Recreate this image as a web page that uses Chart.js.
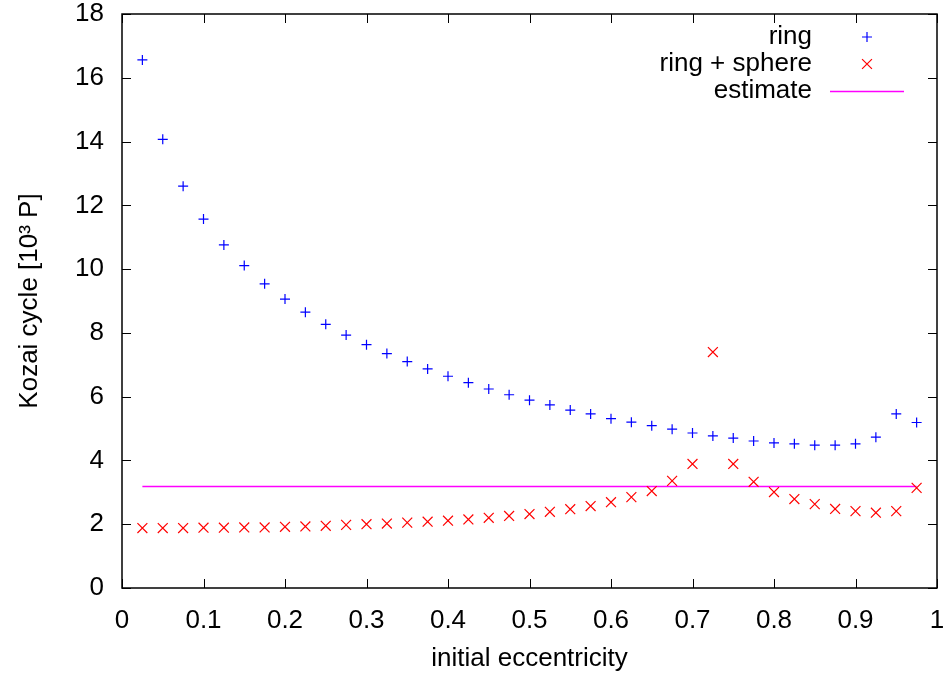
<!DOCTYPE html>
<html>
<head>
<meta charset="utf-8">
<script src="https://cdn.jsdelivr.net/npm/chart.js@4/dist/chart.umd.min.js"></script>
<style>
  html, body { margin: 0; padding: 0; background: #fff; }
  #wrap { width: 948px; height: 675px; position: relative; }
</style>
</head>
<body>
<div id="wrap"><canvas id="kozai"></canvas></div>
<script>
// initial eccentricity of each run
const eccentricity = [0.025, 0.05, 0.075, 0.1, 0.125, 0.15, 0.175, 0.2, 0.225, 0.25,
  0.275, 0.3, 0.325, 0.35, 0.375, 0.4, 0.425, 0.45, 0.475, 0.5,
  0.525, 0.55, 0.575, 0.6, 0.625, 0.65, 0.675, 0.7, 0.725, 0.75,
  0.775, 0.8, 0.825, 0.85, 0.875, 0.9, 0.925, 0.95, 0.975];

// Kozai cycle length [10^3 P]
const ringValues = [16.56, 14.07, 12.6, 11.57, 10.76, 10.11, 9.54, 9.06, 8.65, 8.27,
  7.93, 7.63, 7.35, 7.1, 6.87, 6.64, 6.44, 6.24, 6.06, 5.89,
  5.74, 5.58, 5.46, 5.31, 5.2, 5.09, 4.98, 4.86, 4.77, 4.7,
  4.61, 4.55, 4.52, 4.48, 4.48, 4.52, 4.73, 5.46, 5.19];

const ringSphereValues = [1.88, 1.88, 1.88, 1.89, 1.89, 1.9, 1.9, 1.92, 1.93, 1.95,
  1.98, 2.0, 2.02, 2.05, 2.08, 2.11, 2.15, 2.2, 2.26, 2.32,
  2.39, 2.47, 2.57, 2.69, 2.85, 3.04, 3.36, 3.89, 7.4, 3.89,
  3.33, 3.01, 2.79, 2.63, 2.48, 2.41, 2.36, 2.41, 3.14];

const estimateValue = 3.18;

const xTicks = [0, 0.1, 0.2, 0.3, 0.4, 0.5, 0.6, 0.7, 0.8, 0.9, 1];
const yTicks = [0, 2, 4, 6, 8, 10, 12, 14, 16, 18];

const FONT = 'Liberation Sans, Arial, Helvetica, sans-serif';
const MAGENTA = 'rgb(255, 0, 255)';

const toPoints = (vals) => vals.map((v, i) => ({x: eccentricity[i], y: v}));

// gnuplot-like frame: box around plot area, ticks pointing inwards on all sides
const framePlugin = {
  id: 'frame',
  afterDatasetsDraw(chart) {
    const {ctx, chartArea: a, scales: {x, y}} = chart;
    ctx.save();
    ctx.strokeStyle = '#000';
    ctx.lineWidth = 1;
    const len = 9;
    ctx.beginPath();
    xTicks.forEach(t => {
      const px = Math.round(x.getPixelForValue(t)) + 0.5;
      ctx.moveTo(px, a.bottom); ctx.lineTo(px, a.bottom - len);
      ctx.moveTo(px, a.top); ctx.lineTo(px, a.top + len);
    });
    yTicks.forEach(t => {
      const py = Math.round(y.getPixelForValue(t)) + 0.5;
      ctx.moveTo(a.left, py); ctx.lineTo(a.left + len, py);
      ctx.moveTo(a.right, py); ctx.lineTo(a.right - len, py);
    });
    ctx.stroke();
    ctx.lineWidth = 1.5;
    ctx.strokeRect(a.left, a.top, a.right - a.left, a.bottom - a.top);
    ctx.restore();
  }
};

// key in the top right corner: text right aligned, sample on the right
const keyPlugin = {
  id: 'key',
  afterDraw(chart) {
    const {ctx} = chart;
    const textRight = 812;
    const sampleX = 867;
    const rows = [37, 64, 91];
    ctx.save();
    ctx.font = '26px ' + FONT;
    ctx.textAlign = 'right';
    ctx.textBaseline = 'middle';
    chart.data.datasets.forEach((ds, i) => {
      const yy = rows[i];
      ctx.fillStyle = '#000';
      ctx.fillText(ds.label, textRight, yy);
      if (ds.showLine) {
        ctx.strokeStyle = MAGENTA;
        ctx.lineWidth = 1.5;
        ctx.beginPath();
        ctx.moveTo(830, yy + 0.5);
        ctx.lineTo(904, yy + 0.5);
        ctx.stroke();
      } else {
        ctx.strokeStyle = ds.borderColor;
        ctx.lineWidth = ds.pointBorderWidth;
        Chart.helpers.drawPoint(ctx, {pointStyle: ds.pointStyle, radius: ds.pointRadius, borderWidth: ds.pointBorderWidth, rotation: 0}, sampleX, yy);
      }
    });
    ctx.restore();
  }
};

new Chart('kozai', {
  type: 'scatter',
  data: {
    datasets: [
      {
        label: 'ring',
        data: toPoints(ringValues),
        pointStyle: 'cross',
        pointRadius: 5,
        pointBorderWidth: 1.2,
        borderColor: '#0000ff',
        backgroundColor: '#0000ff',
        showLine: false
      },
      {
        label: 'ring + sphere',
        data: toPoints(ringSphereValues),
        pointStyle: 'crossRot',
        pointRadius: 7,
        pointBorderWidth: 1.2,
        borderColor: '#ff0000',
        backgroundColor: '#ff0000',
        showLine: false
      },
      {
        label: 'estimate',
        type: 'line',
        data: [{x: eccentricity[0], y: estimateValue}, {x: eccentricity[eccentricity.length - 1], y: estimateValue}],
        showLine: true,
        fill: false,
        borderColor: MAGENTA,
        backgroundColor: MAGENTA,
        borderWidth: 1.5,
        pointRadius: 0,
        pointHoverRadius: 0
      }
    ]
  },
  options: {
    responsive: true,
    maintainAspectRatio: false,
    animation: false,
    events: [],
    layout: {padding: {top: 14, right: 11, left: 0, bottom: 0}},
    plugins: {
      legend: {display: false},
      tooltip: {enabled: false}
    },
    scales: {
      x: {
        type: 'linear',
        min: 0,
        max: 1,
        afterFit: (s) => { s.height = 87; s.paddingLeft = 0; s.paddingRight = 0; },
        afterBuildTicks: (s) => { s.ticks = xTicks.map(v => ({value: v})); },
        grid: {display: false, drawTicks: false},
        border: {display: false},
        ticks: {
          color: '#000',
          padding: 20,
          maxRotation: 0,
          font: {family: FONT, size: 26, lineHeight: 1},
          callback: (v) => String(+v.toFixed(1))
        },
        title: {
          display: true,
          text: 'initial eccentricity',
          color: '#000',
          font: {family: FONT, size: 26},
          padding: {top: 0, bottom: 1}
        }
      },
      y: {
        type: 'linear',
        min: 0,
        max: 18,
        afterFit: (s) => { s.width = 122; s.paddingTop = 0; s.paddingBottom = 0; },
        afterBuildTicks: (s) => { s.ticks = yTicks.map(v => ({value: v})); },
        grid: {display: false, drawTicks: false},
        border: {display: false},
        ticks: {
          color: '#000',
          padding: 18,
          font: {family: FONT, size: 26, lineHeight: 1}
        },
        title: {
          display: true,
          text: 'Kozai cycle [10\u00B3 P]',
          color: '#000',
          font: {family: FONT, size: 26},
          padding: {top: 14, bottom: 0}
        }
      }
    }
  },
  plugins: [framePlugin, keyPlugin]
});
</script>
</body>
</html>
